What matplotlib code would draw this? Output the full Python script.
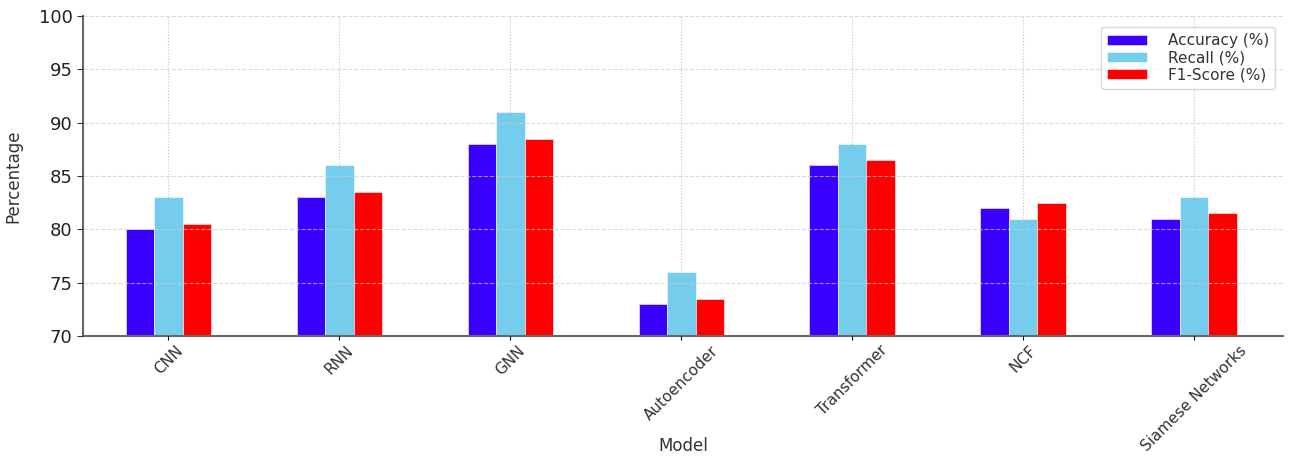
import matplotlib
matplotlib.use("Agg")
import matplotlib.pyplot as plt
import numpy as np

models = ["CNN", "RNN", "GNN", "Autoencoder", "Transformer", "NCF", "Siamese Networks"]
accuracy = [80, 83, 88, 73, 86, 82, 81]
recall = [83, 86, 91, 76, 88, 81, 83]
f1 = [80.5, 83.5, 88.5, 73.5, 86.5, 82.5, 81.5]
series_names = ["Accuracy (%)", "Recall (%)", "F1-Score (%)"]
colors = ["#3a00ff", "#75cdee", "#ff0000"]

fig = plt.figure(figsize=(12.96, 4.62), dpi=100)
ax = fig.add_axes([0.064, 0.273, 0.926, 0.692])

x = np.arange(len(models))
w = 0.5 / 3
for i, (vals, name, c) in enumerate(zip([accuracy, recall, f1], series_names, colors)):
    ax.bar(x + (i - 1) * w, vals, width=w, color=c, label=name,
           edgecolor="#ffffff", linewidth=0.4)

ax.set_xlim(-0.5, 6.52)
ax.set_ylim(70, 100)
ax.set_yticks(np.arange(70, 101, 5))
ax.set_xticks(x)
ax.set_xticklabels(models, rotation=45, ha="center", rotation_mode="default",
                   fontsize=11, color="#333333")
ax.tick_params(axis="y", labelsize=13, colors="#333333", length=4)
ax.tick_params(axis="x", length=3, pad=2)
for lbl in ax.get_yticklabels():
    lbl.set_color("#222222")

ax.set_axisbelow(False)
ax.yaxis.grid(True, linestyle="--", color="#cccccc", linewidth=0.8, alpha=0.7)
ax.xaxis.grid(True, linestyle=":", color="#aaaaaa", linewidth=0.8, alpha=0.7)

for s in ["top", "right"]:
    ax.spines[s].set_visible(False)
for s in ["left", "bottom"]:
    ax.spines[s].set_color("#666666")
    ax.spines[s].set_linewidth(1.5)

ax.set_ylabel("Percentage", fontsize=12, color="#333333", labelpad=12)
ax.set_xlabel("Model", fontsize=12, color="#333333", va="center")
ax.xaxis.set_label_coords(0.5, -0.345)

leg = ax.legend(loc="upper right", fontsize=11, frameon=True,
                bbox_to_anchor=(1.0, 0.99), handlelength=2.6, handleheight=0.6,
                handletextpad=1.4, labelspacing=0.15, borderpad=0.4)
leg.get_frame().set_edgecolor("#cccccc")
for t in leg.get_texts():
    t.set_color("#333333")

fig.savefig("out.png", dpi=100)
